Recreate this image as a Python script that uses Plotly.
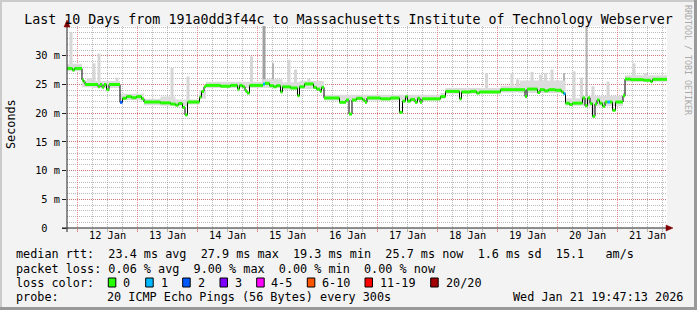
import plotly.graph_objects as go
import pandas as pd

# ---------------- data ----------------
START = pd.Timestamp("2026-01-11 19:47:13")
END = pd.Timestamp("2026-01-21 19:47:13")

# median RTT steps (hours since START, value in ms, pings lost of 20)
med_hours = [0.0, 2.2, 3.0, 6.0, 6.6, 7.2, 12.4, 13.2, 14.0, 14.8, 15.8, 16.8,
             21.2, 22.2, 23.8, 25.8, 27.8, 29.8, 30.8, 37.4, 41.4, 43.4, 44.6,
             46.2, 47.2, 48.2, 53.0, 53.8, 54.8, 55.6, 61.4, 65.4, 68.2, 69.0,
             70.2, 71.2, 72.0, 73.0, 78.4, 79.2, 81.0, 82.6, 83.8, 85.4, 86.2,
             89.4, 92.2, 93.0, 95.0, 98.6, 99.8, 101.2, 101.8, 102.8, 109.0,
             111.6, 112.8, 114.0, 115.8, 118.2, 119.2, 120.0, 125.4, 129.4,
             133.0, 134.2, 135.4, 136.2, 137.4, 139.2, 140.2, 141.2, 142.0,
             149.4, 151.4, 157.0, 157.8, 161.4, 163.8, 165.0, 173.4, 183.2,
             184.0, 188.2, 189.2, 191.0, 192.6, 195.4, 197.8, 198.6, 199.4,
             201.0, 202.2, 206.2, 207.2, 208.2, 209.2, 210.2, 211.2, 212.0,
             213.0, 214.2, 215.2, 216.2, 217.2, 218.2, 219.4, 222.4, 223.2,
             225.4, 230.6, 233.4, 234.2]
med_ms = [27.8, 27.5, 27.8, 25.8, 25.5, 25.0, 24.6, 25.0, 24.5, 25.0, 24.1, 25.0,
          21.9, 22.6, 22.9, 22.7, 22.9, 22.5, 21.95, 21.8, 21.6, 21.4, 21.7,
          21.0, 19.7, 21.95, 22.8, 23.8, 24.6, 24.85, 24.7, 24.85, 24.2, 24.85,
          24.6, 23.9, 23.5, 24.85, 25.1, 25.2, 24.8, 24.6, 24.8, 23.7, 24.6,
          24.4, 23.05, 24.6, 25.1, 24.5, 24.2, 23.8, 24.5, 22.65, 21.9,
          22.3, 19.85, 22.3, 22.6, 22.3, 21.9, 22.65, 22.5, 22.65,
          20.15, 22.1, 22.9, 22.1, 22.4, 21.9, 22.6, 21.9, 22.5,
          22.9, 23.8, 22.5, 23.7, 23.8, 23.5, 23.7, 24.1, 22.9,
          24.2, 23.6, 24.1, 23.9, 24.1, 24.0, 23.7, 23.4, 21.75,
          21.5, 21.75, 22.65, 21.3, 22.65, 21.7, 19.45, 21.6, 22.3,
          21.75, 21.2, 21.95, 21.95, 21.95, 20.5, 21.95, 23.05, 25.95,
          25.85, 25.75, 25.5, 25.9]
med_loss = [0] * len(med_ms)
med_loss[12] = 2    # 21.2 h
med_loss[38] = 1    # 78.4 h
med_loss[89] = 1    # 198.6 h
med_loss[103] = 1   # 216.2 h

# smoke envelope (hours since START, low ms, high ms)
smoke_hours = [0.0, 6.0, 8.0, 10.0, 21.2, 30.8, 37.4, 43.4, 48.2, 53.0, 55.6,
               78.4, 86.2, 93.0, 102.8, 149.4, 151.4, 173.4, 181.0, 199.4,
               206.2, 222.4, 223.2]
smoke_lo = [27.3, 24.5, 24.5, 24.4, 22.3, 21.4, 21.3, 21.2, 21.5, 22.5, 24.4,
            24.4, 24.1, 24.2, 22.2, 22.5, 23.4, 23.6, 23.5, 21.3,
            21.2, 22.8, 25.5]
smoke_hi = [28.6, 25.7, 26.1, 25.6, 23.4, 22.5, 22.9, 22.4, 22.4, 24.0, 25.5,
            25.9, 25.4, 25.6, 23.2, 23.5, 24.4, 24.8, 25.7, 22.6,
            23.0, 23.6, 26.6]

# smoke spikes (hours since START, top ms, shade)
spike_hours = [1.6, 10.8, 12.8, 20.0, 42.0, 48.4, 73.8, 78.8, 82.4, 88.8, 91.4,
               96.8, 167.8, 178.0, 180.2, 186.0, 189.4, 191.4, 194.0, 198.8,
               202.8, 205.8, 207.8, 210.4, 216.4, 226.8, 231.4]
spike_top = [34.1, 28.7, 30.4, 26.2, 27.9, 26.4, 29.9, 36.0, 28.7, 29.3, 27.6,
             26.0, 27.0, 27.0, 25.9, 27.2, 26.7, 27.0, 27.6, 27.0,
             27.3, 26.2, 36.0, 24.7, 25.5, 28.7, 27.0]
spike_shade = ["light", "light", "light", "light", "light", "light", "light",
               "dark", "mid", "light", "light", "light", "light", "light",
               "light", "light", "light", "light", "light", "mid",
               "light", "light", "mid", "light", "light", "light", "light"]

day_labels = ["12 Jan", "13 Jan", "14 Jan", "15 Jan", "16 Jan",
              "17 Jan", "18 Jan", "19 Jan", "20 Jan", "21 Jan"]
day_dates = ["2026-01-12", "2026-01-13", "2026-01-14", "2026-01-15", "2026-01-16",
             "2026-01-17", "2026-01-18", "2026-01-19", "2026-01-20", "2026-01-21"]
y_ticks = [0, 5, 10, 15, 20, 25, 30]
y_ticklabels = ["0\u00a0\u00a0", "5 m", "10 m", "15 m", "20 m", "25 m", "30 m"]

loss_names = ["0", "1", "2", "3", "4-5", "6-10", "11-19", "20/20"]
loss_colors = ["#26ff00", "#00b8ff", "#0059ff", "#7e00ff", "#ff00ff",
               "#ff5500", "#ff0000", "#a10000"]

title_text = "Last 10 Days from 191a0dd3f44c to Massachusetts Institute of Technology Webserver"
line1 = "median rtt:  23.4 ms avg  27.9 ms max  19.3 ms min  25.7 ms now  1.6 ms sd  15.1   am/s"
line2 = "packet loss: 0.06 % avg  9.00 % max  0.00 % min  0.00 % now"
line3 = "loss color:"
line4a = "probe:"
line4b = "20 ICMP Echo Pings (56 Bytes) every 300s"
stamp = "Wed Jan 21 19:47:13 2026"

# ---------------- helpers ----------------
L, R, T, B = 67, 30, 26, 82
W, H = 697, 310
PW, PH = W - L - R, H - T - B
MONO = "DejaVu Sans Mono"


def px(xp):
    return (xp - L) / PW


def py(yp):
    return (H - B - yp) / PH


def nb(s):
    return s.replace(" ", "\u00a0")


def ts(h):
    return START + pd.Timedelta(hours=h)


def loss_index(n):
    if n <= 3:
        return n
    if n <= 5:
        return 4
    if n <= 10:
        return 5
    if n <= 19:
        return 6
    return 7


fig = go.Figure()

# smoke band
sx = [ts(h) for h in smoke_hours] + [END]
fig.add_trace(go.Scatter(x=sx, y=smoke_lo + [smoke_lo[-1]], mode="lines",
                         line=dict(width=0, shape="hv"), hoverinfo="skip"))
fig.add_trace(go.Scatter(x=sx, y=smoke_hi + [smoke_hi[-1]], mode="lines",
                         line=dict(width=0, shape="hv"), fill="tonexty",
                         fillcolor="#dcdcdc", hoverinfo="skip"))


# spikes from the median up
def med_at(h):
    v = med_ms[0]
    for hh, vv in zip(med_hours, med_ms):
        if hh <= h:
            v = vv
    return v


shade_col = {"light": "#d6d6d6", "mid": "#b4b4b4", "dark": "#a0a0a0"}
shade_w = {"light": 3, "mid": 2, "dark": 3}
bases = [med_at(h) for h in spike_hours]
fig.add_trace(go.Bar(
    x=[ts(h) for h in spike_hours],
    y=[t - b for t, b in zip(spike_top, bases)],
    base=bases,
    width=[shade_w[s] * 1440 * 1000 for s in spike_shade],
    marker=dict(color=[shade_col[s] for s in spike_shade], line=dict(width=0)),
    hoverinfo="skip"))

# black median step line
mx = [ts(h) for h in med_hours] + [END]
fig.add_trace(go.Scatter(x=mx, y=med_ms + [med_ms[-1]], mode="lines",
                         line=dict(color="#000000", width=1, shape="hv"),
                         hoverinfo="skip"))

# coloured loss segments
for li, col in enumerate(loss_colors):
    xs, ys = [], []
    for i, v in enumerate(med_ms):
        if loss_index(med_loss[i]) != li:
            continue
        xs += [mx[i], mx[i + 1], None]
        ys += [v, v, None]
    if xs:
        fig.add_trace(go.Scatter(x=xs, y=ys, mode="lines",
                                 line=dict(color=col, width=3),
                                 hoverinfo="skip"))

# helper trace for the label axis
fig.add_trace(go.Scatter(x=[START, END], y=[0, 0], xaxis="x2", mode="lines",
                         line=dict(width=0), hoverinfo="skip"))

MGRID = "rgba(222,79,79,0.6)"
GRID = "rgba(143,143,143,0.6)"
DASH = "1px,1px"

fig.update_layout(
    width=W, height=H,
    margin=dict(l=L, r=R, t=T, b=B, pad=0),
    paper_bgcolor="#f3f3f3", plot_bgcolor="#ffffff",
    showlegend=False, barmode="overlay",
    font=dict(family=MONO, size=10.3, color="#000000"),
    title=dict(text=nb(title_text), x=348.5 / W, xanchor="center",
               y=1 - 19 / H, yanchor="middle",
               font=dict(family=MONO, size=13.3, color="#000000")),
    xaxis=dict(type="date", range=[START, END], tick0=day_dates[0],
               dtick=86400000, showticklabels=False, showgrid=True,
               gridcolor=MGRID, griddash=DASH, gridwidth=1,
               ticks="outside", ticklen=3, tickcolor=MGRID,
               zeroline=False, showline=False,
               minor=dict(dtick=21600000, tick0=day_dates[0], showgrid=True,
                          gridcolor=GRID, griddash=DASH, gridwidth=1,
                          ticks="outside", ticklen=3, tickcolor=GRID)),
    xaxis2=dict(type="date", overlaying="x", anchor="y", side="bottom",
                range=[START, END], tickmode="array",
                tickvals=[pd.Timestamp(d) + pd.Timedelta(hours=12) for d in day_dates],
                ticktext=[nb(t) for t in day_labels], showgrid=False,
                ticks="", zeroline=False, showline=False,
                tickfont=dict(family=MONO, size=10.3, color="#000000")),
    yaxis=dict(range=[0, PH / 5.74], tickmode="array", tickvals=y_ticks,
               ticktext=y_ticklabels, showgrid=True, gridcolor=MGRID,
               griddash=DASH, gridwidth=1, zeroline=False, showline=False,
               ticks="outside", ticklen=4, tickcolor="#202020",
               tickfont=dict(family=MONO, size=10.3, color="#000000"),
               minor=dict(dtick=1, tick0=0, showgrid=True, gridcolor=GRID,
                          griddash=DASH, gridwidth=1, ticks="")),
)

shapes = []
# frame shading
shapes.append(dict(type="rect", xref="paper", yref="paper", x0=px(0), x1=px(W),
                   y0=py(0), y1=py(2), fillcolor="#cbcbcb", line=dict(width=0)))
shapes.append(dict(type="rect", xref="paper", yref="paper", x0=px(0), x1=px(2),
                   y0=py(0), y1=py(H), fillcolor="#cbcbcb", line=dict(width=0)))
shapes.append(dict(type="rect", xref="paper", yref="paper", x0=px(W - 3), x1=px(W),
                   y0=py(0), y1=py(H), fillcolor="#999999", line=dict(width=0)))
shapes.append(dict(type="rect", xref="paper", yref="paper", x0=px(0), x1=px(W),
                   y0=py(H - 3), y1=py(H), fillcolor="#999999", line=dict(width=0)))
# axes lines
shapes.append(dict(type="line", xref="paper", yref="paper", x0=px(67), x1=px(67),
                   y0=py(232), y1=py(25), line=dict(color="#202020", width=1)))
shapes.append(dict(type="line", xref="paper", yref="paper", x0=px(62), x1=px(668),
                   y0=py(228), y1=py(228), line=dict(color="#202020", width=1)))
# arrows
shapes.append(dict(type="path", xref="paper", yref="paper",
                   path=f"M {px(67)} {py(20)} L {px(64)} {py(27)} L {px(70)} {py(27)} Z",
                   fillcolor="#800000", line=dict(color="#800000", width=0.5)))
shapes.append(dict(type="path", xref="paper", yref="paper",
                   path=f"M {px(673)} {py(228)} L {px(666)} {py(225)} L {px(666)} {py(231)} Z",
                   fillcolor="#800000", line=dict(color="#800000", width=0.5)))
# legend colour boxes
box_left = [108.3, 145.7, 182.7, 220, 256.7, 307.3, 365, 430.7]
label_left = [123, 160.7, 197.7, 235, 270.7, 321.7, 380, 446]
for bl, col in zip(box_left, loss_colors):
    shapes.append(dict(type="rect", xref="paper", yref="paper",
                       x0=px(bl), x1=px(bl + 7.5), y0=py(287), y1=py(278),
                       fillcolor=col, line=dict(color="#000000", width=1)))
fig.update_layout(shapes=shapes)

ann = []


def text(xp, yp, s, size=11.8, color="#000000", xanchor="left", angle=0):
    ann.append(dict(x=px(xp), y=py(yp), xref="paper", yref="paper", text=nb(s),
                    showarrow=False, xanchor=xanchor, yanchor="middle",
                    textangle=angle, borderpad=0,
                    font=dict(family=MONO, size=size, color=color)))


text(15, 254.5, line1)
text(15, 268.5, line2)
text(15, 282.5, line3)
for ll, name in zip(label_left, loss_names):
    text(ll - 1, 282.5, name)
text(15, 296.5, line4a)
text(106, 296.5, line4b)
text(512, 296.5, stamp)
text(11, 124, "Seconds", angle=-90, xanchor="center")
text(688, 60, "RRDTOOL / TOBI OETIKER", size=8.3, color="#aaaaaa",
     xanchor="center", angle=90)
fig.update_layout(annotations=ann)

fig.write_html("out.html")
